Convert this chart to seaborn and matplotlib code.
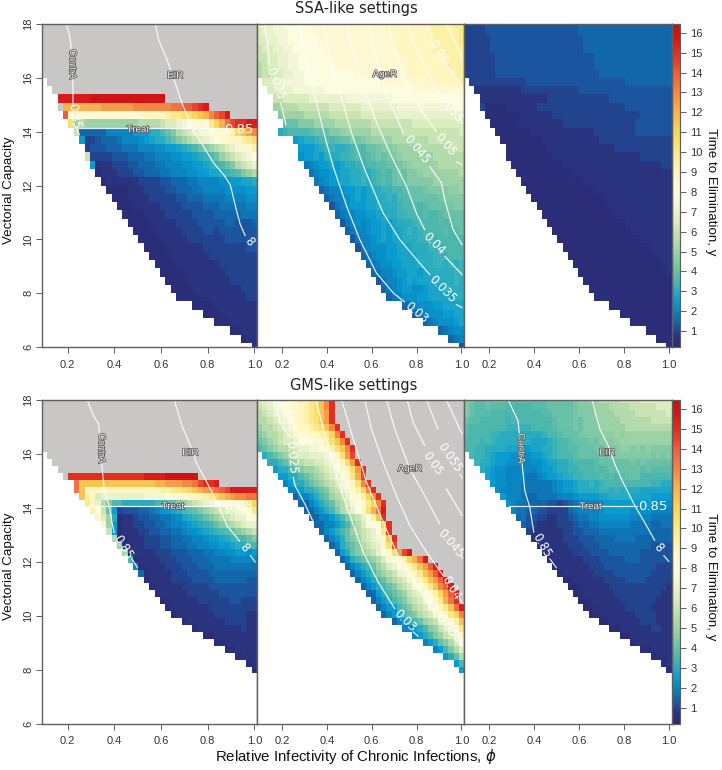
import numpy as np
import matplotlib
matplotlib.use("Agg")
import matplotlib.pyplot as plt
import matplotlib.patheffects as pe
from matplotlib.colors import LinearSegmentedColormap, ListedColormap
import seaborn as sns

sns.set_theme(style="white")
plt.rcParams['font.family'] = ['Liberation Sans', 'DejaVu Sans']

# Cell codes: . = white (no elimination possible), # = grey (beyond the scale)
# 0-9 a-x = time to elimination in half years, capitals = the quarter values between
HALF_CODES = "0123456789abcdefghijklmnopqrstuvwx"
QUARTER_CODES = {'A': 0.25, 'B': 0.75, 'C': 1.25, 'D': 1.75, 'E': 2.25,
                 'F': 2.75, 'G': 3.25, 'H': 3.75, 'I': 4.25, 'J': 4.75}

# Rows run from the top of each panel, and are right aligned on 40 columns
ssa_treat = [
    "#" * 40, "#" * 40, "#" * 40, "#" * 40, "#" * 40, "#" * 40, "#" * 40,
    "#" * 39, "#" * 38,
    "vvvvvvwwwwwwwwwwwwww" + "#" * 17,
    "#" + "oooooooppppppqqqqqqqrrsstuv" + "#" * 9,
    "shhhhhhhhhhhhhhiiiijkkllmnoqstv" + "#" * 5,
    "l" "abaaaaaaaaaabbbb" "cddef" "ghhg" "kmor" "tuuvv",
    "c" "3333344444" "55566" "789" "bcd" "eff" "ghh" "ij" "mn" "pq",
    "5" "22C33" "3D444" "E5F667" "89ab" "cdef" "ghhi" "ijkl",
    "2CCC33" "3DDD44" "4EE55F" "6G78" "9abc" "defh" "hj",
    "c" "2222C" "CC333" "DD444" "EE55F" "6G78" "abcd" "efg",
    "5" "1BB22" "2CC33" "3DD44" "4EE55" "F6G7" "89b" "cde",
    "1BBB2" "22CC3" "33DD4" "44EE5" "5FF6G" "7H9" "ab",
    "1BBBB" "BB222" "2CC33" "3DD44" "44EE5" "5FF6",
    "1111B" "BB222" "2CC33" "3DD44" "44EE" "EE55",
    "111BB" "BB222" "22CC3" "33DDD" "D444" "4EE",
    "111BB" "BBB22" "22CCC" "C333D" "DDDD" "44",
    "1111B" "BBB22" "222CC" "CC333" "33DDD",
    "1111B" "BBBB2" "222CC" "CCC33" "CCC3",
    "1111B" "BBBB2" "222CC" "2CCCC" "CCC",
    "1111B" "BBBB2" "22222" "2CCCC" "CC",
    "1111B" "BBBBB" "B2222" "2222C" "C",
    "1111B" "BBBBB" "B2222" "22222",
    "1111B" "BBBBB" "BB222" "2222",
    "1111B" "BBBBB" "BB222" "222",
    "1111B" "BBBBB" "BB222" "22",
    "1111B" "BBBBB" "BBB22" "2",
    "1111B" "BBBBB" "BBB22",
    "1111B" "BBBBB" "BB",
    "111BB" "BBBBB",
    "111BB" "BBB",
    "11BBB",
    "1BB",
    "B",
]

ssa_ager = [
    "eeeff" "ggggg" "hhhhh" "hhhhh" "hhhhh" "iiiii" "iiijj" "jjjkk",
    "deeff" "fgggg" "ghhhh" "hhhhh" "hhhhh" "iiiii" "iiijj" "jjjjk",
    "ddeef" "fgggg" "gghhh" "hhhhh" "hhhhh" "hiiii" "iiiij" "jjjjk",
    "cddee" "ffggg" "ggghh" "hhhhh" "hhhhh" "hhiii" "iiiij" "jjjjj",
    "ccdde" "effgg" "ggggh" "hhhhh" "hhhhh" "hhhii" "iiiii" "ijjjj",
    "bcdde" "effgg" "ggggg" "hhhhh" "hhhhh" "hhhhi" "iiiii" "iijjj",
    "bccdd" "eeffg" "ggggg" "ggggh" "hhhhh" "hhhhi" "iiiii" "iiijj",
    "ddee" "ffffg" "ggggg" "ggggg" "ggggh" "hhhhh" "hhhii" "iiiij",
    "dde" "eefff" "fffgg" "ggggg" "ggggg" "ggggg" "hhhhh" "hhhhh",
    "cc" "ddddd" "eeeee" "eefff" "fffff" "fgggg" "ggggg" "ggggg",
    "aa" "bbbcc" "ccccd" "ddddd" "eeeee" "eefff" "fffff" "fffgg",
    "9" "aaaab" "bbbbc" "ccccc" "ddddd" "ddeee" "eeeee" "eeeee",
    "88899" "9aaaa" "bbbbb" "bbccc" "ccccc" "ddddd" "ddddd",
    "6" "G7777" "H8889" "9Jaaa" "aabbb" "bbbcc" "ccccc" "ccccd",
    "5F6" "6G7H7" "H889I" "9Jaaa" "abbbb" "bbbcc" "ccccc",
    "55" "5F6GG" "66G7H" "788I9" "9Jaaa" "abbbb" "bbccc",
    "E5" "5F566" "6GG7H" "7H8I8" "I9Jaa" "aaaab" "bbbbb",
    "D" "4E55F" "5F66G" "G77HH" "88I9J" "aaaaa" "bbbbb",
    "D4EE5" "5FF66" "G6G7H" "78I89" "9Jaaa" "aaaab",
    "D4E5" "5FF66" "G6G7H" "78I89" "9999a" "aaaaa",
    "3D4" "4E55F" "5F66G" "G77H8" "88I99" "99JJa",
    "3D" "44E5F" "5FF66" "G677H" "88888" "I9999",
    "C" "D4E55" "5FF66" "66G77" "H7H88" "88I99",
    "3D44E" "E55FF" "66GG7" "77H77" "H8888",
    "CD4E" "4E55F" "5F666" "G7777" "H7H88",
    "3D4" "4E55F" "5FF6G" "6G777" "7H7H8",
    "CD" "44E5F" "5FF66" "6GG7G" "77777",
    "C" "D4EEE" "55FFF" "666GG" "G7777",
    "3D4EE" "55FFF" "F666G" "GG777",
    "3D4E" "E55FF" "F666G" "G6G6G",
    "3D4" "4E55F" "F5F66" "666GG",
    "CD" "44E5F" "5FFF6" "666G6",
    "3" "D4E55" "EE5FF" "F6666",
    "3D4EE" "E55FF" "FFF66",
    "3D4EE" "E55FF" "FF",
    "3D4EE" "E55FF",
    "3D4EE" "E5F",
    "3D4EE",
    "3D4",
    "C",
]

ssa_contra = [
    "2" * 4 + "C" * 18 + "3" * 18,
    "2" * 4 + "C" * 18 + "3" * 18,
    "2" * 5 + "C" * 18 + "3" * 17,
    "2" * 5 + "C" * 18 + "3" * 17,
    "2" * 6 + "C" * 19 + "3" * 15,
    "2" * 6 + "C" * 19 + "3" * 15,
    "2" * 6 + "C" * 20 + "3" * 14,
    "2" * 11 + "C" * 19 + "3" * 9,
    "B" * 9 + "2" * 11 + "C" * 18,
    "B" * 13 + "2" * 12 + "C" * 12,
    "2" + "1" * 4 + "B" * 6 + "2" * 17 + "C" * 9,
    "1" * 7 + "B" * 6 + "2" * 17 + "C" * 6,
    "1" * 5 + "B" * 9 + "2" * 14 + "C" * 7,
    "1" * 7 + "B" * 12 + "2" * 8 + "C" * 7,
    "1" * 8 + "B" * 11 + "2" * 14,
    "1" * 8 + "B" * 13 + "2" * 11,
    "1" * 9 + "B" * 17 + "2" * 6,
    "1" * 10 + "B" * 19 + "2" * 2,
    "1" * 11 + "B" * 19,
    "1" * 12 + "B" * 17,
    "1" * 13 + "B" * 15,
    "1" * 14 + "B" * 13,
    "1" * 14 + "B" * 12,
    "1" * 14 + "B" * 11,
    "1" * 15 + "B" * 9,
    "1" * 15 + "B" * 8,
    "1" * 16 + "B" * 6,
    "1" * 17 + "B" * 4,
    "1" * 17 + "B" * 3,
    "1" * 17 + "B" * 2,
    "1" * 17 + "B",
    "1" * 17,
    "1" * 16,
    "1" * 15,
    "1" * 12,
    "1" * 10,
    "1" * 8,
    "1" * 5,
    "1" * 3,
    "1",
]

gms_treat = [
    "#" * 40, "#" * 40, "#" * 40, "#" * 40, "#" * 40, "#" * 40, "#" * 40, "#" * 40,
    "#" * 39, "#" * 38, "#" * 37,
    "#" + "u" * 14 + "v" * 4 + "w" * 6 + "#" * 11,
    "r" + "n" * 14 + "ooppp" "qqr" "tuuv" + "#" * 7,
    "r" "n" + "i" * 14 + "jjkkl" "mno" "pqr" "st" "vvvvv",
    "n" "ji" "deeeeeeeefff" "fgghhh" "iijk" "mnop" "qqrr",
    "k" "i" "e" "b" "9" "77666666" "7788" "9ab" "cdef" "gghh" "hjkm",
    "jgc85" "2CCC33" "D4E" "5F6" "7H8" "9ab" "cde" "efg" "hk",
    "ida6" "1BB2CC" "33D" "D4E" "F6G" "789" "abc" "dee" "gh",
    "fa5" "1BB22C" "C33" "D44" "E5F" "6G7" "89a" "bcd" "ee",
    "c5" "1BBB22" "CC3" "3DD" "4EE" "5F6" "G7H" "89a" "bc",
    "b" "11BBB2" "22C" "C33" "DD4" "4E5" "5F6" "G77" "89",
    "a" "11BB2" "22C" "C33" "3DD" "44E" "E55" "F66" "G7",
    "a" "1BBB" "B22" "2CC" "C33" "3DD" "44E" "E55" "E5",
    "7" "1BB" "BB2" "22C" "CC3" "33D" "DDD" "444" "44",
    "4" "1B" "BBB" "222" "CCC" "333" "DDD" "DDD" "DD",
    "3" "1" "BBB" "B22" "2CC" "CC3" "333" "333" "33",
    "1" "BBB" "B22" "22C" "CCC" "333" "333" "CC",
    "1BBBB" "B2222" "2CCCC" "CCCCC",
    "1BBBB" "B2222" "22CCC" "CCCC",
    "1BBBB" "BB222" "222CC" "222",
    "1BBBB" "BBB22" "22222" "22",
    "1BBBB" "BBB22" "2222B" "B",
    "1BBBB" "BBB22" "22BB",
    "1BBBB" "BBBB2" "BB",
    "11BBB" "BBBBB",
    "11BBB" "BBB",
    "11BBB" "B",
    "1BBB",
    "1B",
    "1",
]

gms_ager = [
    "defgghhi" "jjklnqu" + "#" * 25,
    "cdefgghh" "ijklnqu" + "#" * 25,
    "bcdefggh" "ijklnpu" + "#" * 25,
    "bbcdefgh" "ijklnpu" + "#" * 25,
    "abbcdefg" "iijklnqu" + "#" * 24,
    "9abbcdef" "hhiijkmqu" + "#" * 23,
    "89abcdde" "ggghhjlnqu" + "#" * 22,
    "789abbcd" "eeffg" "hjlnqu" + "#" * 21,
    "6789abc" "ddeee" "fgilpt" + "#" * 21,
    "66789a" "bccdd" "efgilpu" + "#" * 20,
    "56678" "9aabc" "deghilpu" + "#" * 19,
    "5566" "789ab" "cdeghkot" + "#" * 19,
    "456" "6789a" "bcdfgilqu" + "#" * 18,
    "44" "56678" "9bcefhjmqu" + "#" * 17,
    "3" "44567" "8abcegh" "jmqu" + "#" * 16,
    "33456" "78abdfgh" "kmqu" + "#" * 15,
    "3345" "679bcegilorv" + "#" * 15,
    "334" "4567" "9bcegjnu" + "#" * 15,
    "33" "445679bd" "ggg" "mu" + "#" * 14,
    "345678abcdegku" + "#" * 14,
    "345689acdefinu" + "#" * 13,
    "346789bcdehlt" + "#" * 13,
    "35689abcegh" "lptv" + "#" * 10,
    "346789abd" "fghjmorv" + "#" * 7,
    "345678abd" "eghiknpsv" + "#" * 5,
    "345679abc" "efhiknpsv" + "#" * 4,
    "345678abc" "dfhiknpsv" + "#" * 3,
    "3456789bc" "dfgiknqsv" + "#" * 2,
    "3356789ac" "deghjmpsv" + "#",
    "3456789b" "cdfgikoru" + "#",
    "3455789b" "cdfgiknrv",
    "3456789bcdfgikmq",
    "345678abcefhjn",
    "445679acdfhk",
    "45679acdfi",
    "45689bdg",
    "4579bd",
    "568b",
    "57",
    "5",
]

gms_contra = [
    "99HH" "8888" "HHHH" "HHHH" "8888" "8I99" "aabb" "bbcc" "ccdd" "dddd",
    "98HH" "8HHH" "7777" "7HHH" "8888" "8I99" "9aaa" "bbbb" "cccc" "cddd",
    "98HH" "H777" "7777" "777H" "H888" "8I99" "9aaa" "abbb" "bccc" "cccd",
    "8HH7" "7777" "G777" "7777" "7H88" "8I89" "99aa" "aabb" "bbbb" "cccc",
    "H777" "7777" "GGGG" "G777" "7H88" "8I89" "99aa" "aaab" "bbbb" "bbbb",
    "H777" "7GG6" "6666" "666G" "77H8" "88I9" "999J" "JaJa" "aaaa" "aaaa",
    "777G" "7G66" "6666" "6FFF" "6G77" "H888" "I899" "9Jaa" "aaaa" "aaaa",
    "77GG" "6666" "FFF5" "5FF6" "6G77" "HH88" "8I89" "99JJ" "9J9J" "9999",
    "7GG" "6F55" "5EEE" "E55F" "6G77" "7H88" "88I8" "I999" "9999" "I9I9",
    "G6" "6F55" "EEE4" "4EE5" "FF66" "G777" "7H88" "8888" "I8I8" "8888",
    "6" "F5EE" "4444" "44E5" "5F66" "GG77" "7H7H" "8888" "88H8" "HHHH",
    "F5EE" "4444" "DD4E" "55F6" "6GG7" "77H7" "H7H8" "8877" "7777",
    "5EE" "444D" "DDDD" "D4E5" "5F66" "G6G7" "7777" "7777" "GG66",
    "E4" "444D" "DDDD" "D4E5" "5F66" "66GG" "6G66" "66FF" "FFFF",
    "5" "444D" "33DD" "DD44" "4E55" "55FF" "6666" "FFFF" "5555",
    "E4DD" "3333" "CC2C" "3D44" "44E5" "5555" "5555" "EEEE",
    "4DD" "33CC" "2222" "3D44" "44E5" "5555" "EEEE" "4444",
    "3D" "CC22" "BB22" "C3DD" "44EE" "EEEE" "4444" "DDDD",
    "3" "C2BB" "BB22" "2C33" "DD44" "4444" "DDDD" "33DD",
    "2BBB" "BBB2" "2CC3" "33DD" "DDDD" "DDDD" "3333",
    "BBB" "BBB2" "22CC" "C333" "3DDD" "D333" "3333",
    "BB" "BBBB" "222C" "CC33" "3333" "3333" "CCCC",
    "B" "BBBB" "B222" "CCCC" "3333" "33CC" "CCCC",
    "1BBB" "BBB2" "22CC" "CCC3" "33CC" "CCCC",
    "1BB" "BBBB" "222C" "CCCC" "CCCC" "C222",
    "1B" "BBBB" "B222" "2CCC" "CCCC" "2222",
    "1" "1BBB" "BBB2" "222C" "CCC2" "2222",
    "11BB" "BBBB" "2222" "2222" "222B",
    "11B" "BBBB" "B222" "2222" "22BB",
    "11" "BBBB" "BB22" "2222" "2BBB",
    "1" "1BBB" "BBB2" "2222" "BBBB",
    "11BB" "BBBB" "B222" "2BBB",
    "11" "BBBB" "BB22" "2BBB",
    "11BB" "BBBB" "22BB",
    "11" "BBBB" "BBBB",
    "1BBB" "BBBB",
    "11" "BBBB",
    "1BBB",
    "1B",
    "1",
]

# Contour lines as (phi, vectorial capacity) pieces, broken where a label sits
ssa_treat_lines = [
    [(.194, 18), (.207, 17.65), (.214, 17.28), (.218, 16.6), (.223, 15.92), (.223, 14.93)],
    [(.237, 14.19), (.251, 13.88)],
    [(.576, 18), (.590, 17.41), (.626, 16.67), (.657, 15.92), (.690, 15.06), (.720, 14.44),
     (.744, 13.95), (.783, 13.45), (.826, 12.83), (.869, 12.40), (.897, 12.03), (.909, 11.60),
     (.923, 11.10), (.940, 10.55), (.961, 10.14)],
    [(.250, 14.14), (.883, 14.14)],
]
ssa_ager_lines = [
    [(.120, 18), (.135, 17.28), (.144, 16.48)],
    [(.194, 15.06), (.218, 14.25)],
    [(.277, 18), (.295, 17.04), (.339, 15.55), (.391, 13.82), (.428, 12.71), (.488, 11.23),
     (.547, 9.99), (.621, 8.75), (.696, 8.01), (.747, 7.67)],
    [(.387, 18), (.406, 17.04), (.451, 15.68), (.510, 13.95), (.569, 12.59), (.651, 10.98),
     (.725, 9.99), (.814, 9.12), (.859, 8.69)],
    [(.977, 7.58), (1.003, 7.46)],
    [(.488, 18), (.510, 17.16), (.562, 15.68), (.629, 14.19), (.688, 13.08), (.755, 11.97),
     (.799, 10.98), (.836, 10.36)],
    [(.926, 9.37), (1.003, 8.69)],
    [(.584, 18), (.614, 16.91), (.666, 15.43), (.740, 13.95)],
    [(.859, 12.71), (.911, 12.09), (.926, 11.47), (.963, 10.36), (1.003, 9.80)],
    [(.673, 18), (.703, 17.04), (.755, 15.8), (.829, 14.69), (.888, 14.01)],
    [(.977, 12.89), (1.003, 12.77)],
    [(.758, 18), (.785, 17.28), (.829, 16.54), (.881, 15.68), (.900, 15.43)],
    [(.990, 14.5), (1.003, 14.3)],
    [(.844, 18), (.871, 17.47)],
    [(.933, 16.48), (1.003, 15.68)],
    [(.933, 18), (1.003, 16.73)],
]
gms_treat_lines = [
    [(.284, 18), (.311, 17.42), (.333, 17.11), (.337, 16.8), (.347, 15.57), (.357, 14.71),
     (.380, 14.03), (.390, 13.48), (.400, 13.08)],
    [(.476, 12.12), (.500, 11.78)],
    [(.657, 18), (.690, 17.05), (.726, 16.31), (.754, 15.63), (.797, 14.95), (.840, 14.21),
     (.883, 13.35), (.937, 12.77)],
    [(.983, 12.24), (1.004, 12.0)],
    [(.290, 14.09), (.876, 14.09)],
]
gms_ager_lines = [
    [(.161, 18), (.191, 17.17), (.236, 16.62)],
    [(.250, 15.14), (.258, 14.83), (.302, 14.15), (.336, 13.54)],
    [(.351, 18), (.377, 17.17), (.421, 15.94), (.451, 14.95), (.503, 13.72), (.562, 12.37),
     (.629, 11.26), (.703, 10.27)],
    [(.785, 9.41), (.807, 9.25)],
    [(.466, 18), (.518, 16.55), (.577, 14.95), (.651, 13.48), (.710, 12.37), (.799, 11.14),
     (.881, 10.09)],
    [(.985, 9.04), (1.007, 8.86)],
    [(.569, 18), (.599, 16.92), (.651, 15.69), (.710, 14.46), (.770, 13.35), (.844, 12.37),
     (.918, 11.5)],
    [(.992, 10.64), (1.007, 10.45)],
    [(.666, 18), (.703, 16.92), (.770, 15.45), (.844, 14.34), (.903, 13.41)],
    [(.995, 12.25), (1.007, 12.12)],
    [(.758, 18), (.785, 17.17), (.836, 16.31)],
    [(.933, 14.71), (1.003, 13.72)],
    [(.844, 18), (.896, 16.92)],
    [(.992, 15.26), (1.005, 15.1)],
    [(.933, 18), (1.003, 16.74)],
]
gms_contra_lines = [
    [(.285, 18), (.329, 17.23), (.334, 16.8), (.347, 15.63), (.359, 14.64), (.381, 14.03),
     (.399, 13.1)],
    [(.470, 12.12), (.500, 11.78)],
    [(.658, 18), (.693, 16.92), (.730, 16.31), (.759, 15.63), (.796, 14.95), (.848, 14.09),
     (.900, 13.35), (.937, 12.8)],
    [(.977, 12.24), (1.0, 12.02)],
    [(.288, 14.09), (.856, 14.09)],
]

# Contour labels: text, phi, vectorial capacity, rotation
ssa_treat_labels = [("0.85", .229, 14.56, -80), ("8", .98, 9.9, -50), ("0.85", .933, 14.09, 0)]
ssa_treat_names = [("ContrA", .223, 16.5, -90), ("EIR", .661, 16.1, 0), ("Treat", .501, 14.09, 0)]
ssa_ager_labels = [("0.025", .169, 15.8, -70), ("0.03", .799, 7.27, -40), ("0.035", .915, 8.16, -45),
                   ("0.04", .877, 9.83, -45), ("0.045", .799, 13.33, -50), ("0.05", .928, 13.51, -50),
                   ("0.055", .948, 14.87, -50), ("0.06", .896, 16.97, -58)]
ssa_ager_names = [("AgeR", .658, 16.15, 0)]
gms_treat_labels = [("0.85", .437, 12.55, -58), ("8", .957, 12.55, -50), ("0.85", .933, 14.07, 0)]
gms_treat_names = [("ContrA", .347, 16.21, -90), ("EIR", .726, 16.06, 0), ("Treat", .651, 14.07, 0)]
gms_ager_labels = [("0.025", .239, 15.88, -85), ("0.03", .747, 9.81, -45), ("0.035", .943, 9.54, -50),
                   ("0.04", .955, 11.04, -58), ("0.045", .952, 12.68, -50), ("0.05", .871, 15.63, -55),
                   ("0.055", .948, 15.88, -55)]
gms_ager_names = [("AgeR", .770, 15.47, 0)]
gms_contra_labels = [("0.85", .433, 12.61, -60), ("8", .955, 12.55, -50), ("0.85", .93, 14.07, 0)]
gms_contra_names = [("ContrA", .344, 16.21, -90), ("EIR", .725, 16.06, 0), ("Treat", .651, 14.07, 0)]

phi_ticks = [0.2, 0.4, 0.6, 0.8, 1.0]
vc_ticks = [6, 8, 10, 12, 14, 16, 18]
bar_ticks = list(range(1, 17))

# Colour scale of the figure
scale_values = [0.2, 0.5, 0.75, 1.0, 1.25, 1.5, 2, 2.5, 3, 3.5, 4, 4.5, 5, 5.5, 6, 6.5, 7, 7.5, 8,
                9, 10, 10.5, 11, 11.5, 12, 12.5, 13, 13.5, 14, 14.5, 15, 15.5, 16, 16.44]
scale_colours = ["#2b2a72", "#2c2e7a", "#29347f", "#214590", "#1b57a1", "#1169ac", "#0a86c2",
                 "#0a9cd0", "#2aacc0", "#4cb7ae", "#6ac1a6", "#85caa5", "#9dd2a6", "#b5dbab",
                 "#c9e3b2", "#dbecbe", "#e8f2cc", "#f4f7d6", "#fdfce2", "#fff6c2", "#fbe98c",
                 "#f8e173", "#f7d860", "#f8c654", "#fab24f", "#f89c4a", "#f68743", "#f37242",
                 "#ee5f3c", "#e9452f", "#e22f22", "#d91d1a", "#cf1515", "#c41111"]
vmin, vmax = scale_values[0], scale_values[-1]
cmap = LinearSegmentedColormap.from_list(
    "elimination", [((v - vmin) / (vmax - vmin), c) for v, c in zip(scale_values, scale_colours)])
grey_map = ListedColormap(["#c9c7c5"])

N_CELLS = 40
PHI_STEP = 0.9 / 39
W, H = 722, 770
EDGE = "#606060"
halo = [pe.withStroke(linewidth=1.1, foreground="#555555")]


def read_rows(rows):
    values = np.full((N_CELLS, N_CELLS), np.nan)
    grey = np.full((N_CELLS, N_CELLS), np.nan)
    for i, row in enumerate(rows):
        for j, ch in enumerate(row.rjust(N_CELLS, ".")[-N_CELLS:]):
            if ch == "#":
                grey[i, j] = 1
            elif ch in QUARTER_CODES:
                values[i, j] = QUARTER_CODES[ch]
            elif ch != ".":
                values[i, j] = HALF_CODES.index(ch) / 2
    return values, grey


def add_axes(x0, x1, y0, y1):
    # pixel box of the reference, top left origin
    return fig.add_axes([x0 / W, 1 - y1 / H, (x1 - x0) / W, (y1 - y0) / H])


def col_pos(phi):
    return (np.asarray(phi) - 0.1) / PHI_STEP + 0.5


def draw_panel(ax, rows, vc_low, lines, labels, names, show_y, cax=None):
    vc_step = (18 - vc_low) / 39

    def row_pos(vc):
        return (18 - np.asarray(vc)) / vc_step + 0.5

    values, grey = read_rows(rows)
    sns.heatmap(grey, ax=ax, cmap=grey_map, vmin=0, vmax=2, cbar=False,
                xticklabels=False, yticklabels=False)
    sns.heatmap(values, ax=ax, cmap=cmap, vmin=vmin, vmax=vmax, cbar=cax is not None, cbar_ax=cax,
                xticklabels=False, yticklabels=False)
    for piece in lines:
        phi, vc = zip(*piece)
        sns.lineplot(x=col_pos(phi), y=row_pos(vc), ax=ax, color="white", linewidth=0.85, alpha=0.9,
                     sort=False, estimator=None, legend=False)
    for text, phi, vc, rot in labels:
        ax.text(col_pos(phi), row_pos(vc), text, color="white", fontsize=9.5 if rot == 0 else 8.5,
                family="DejaVu Sans", rotation=rot, rotation_mode="anchor", ha="center", va="center")
    for text, phi, vc, rot in names:
        ax.text(col_pos(phi), row_pos(vc), text, color="#f2f2f2", fontsize=7, rotation=rot,
                rotation_mode="anchor", ha="center", va="center", path_effects=halo)
    ax.set_facecolor("white")
    ax.set_xlim(0, N_CELLS)
    ax.set_ylim((18 - 6) / vc_step + 0.5, 0.5)
    ax.set_xticks(col_pos(phi_ticks), [f"{p:.1f}" for p in phi_ticks])
    ax.tick_params(axis="x", bottom=True, length=4, width=0.7, color=EDGE, labelsize=8,
                   labelcolor="#333333", pad=5)
    if show_y:
        ax.set_yticks(row_pos(vc_ticks), [str(v) for v in vc_ticks], rotation=90, va="center")
        ax.tick_params(axis="y", left=True, length=4, width=0.7, color=EDGE, labelsize=8,
                       labelcolor="#333333", pad=2)
    else:
        ax.set_yticks([])
    ax.set_xlabel("")
    ax.set_ylabel("")
    for side in ax.spines.values():
        side.set_visible(True)
        side.set_color(EDGE)
        side.set_linewidth(1.0)


fig = plt.figure(figsize=(W / 100, H / 100), dpi=100, facecolor="white")
panel_x = [(41.5, 257), (257, 464), (464, 671.5)]

tops = [
    (24, 347, 6, "SSA-like settings", 356.5, 8, 190, 192,
     [(ssa_treat, ssa_treat_lines, ssa_treat_labels, ssa_treat_names),
      (ssa_ager, ssa_ager_lines, ssa_ager_labels, ssa_ager_names),
      (ssa_contra, [], [], [])]),
    (400, 724, 8, "GMS-like settings", 354, 386, 566, 577,
     [(gms_treat, gms_treat_lines, gms_treat_labels, gms_treat_names),
      (gms_ager, gms_ager_lines, gms_ager_labels, gms_ager_names),
      (gms_contra, gms_contra_lines, gms_contra_labels, gms_contra_names)]),
]

for y0, y1, vc_low, title, title_x, title_y, left_y, right_y, panels in tops:
    cax = add_axes(671.5, 680, y0, y1)
    for k, (rows, lines, labels, names) in enumerate(panels):
        ax = add_axes(panel_x[k][0], panel_x[k][1], y0, y1)
        draw_panel(ax, rows, vc_low, lines, labels, names, k == 0, cax if k == 2 else None)
    cax.set_yticks(bar_ticks, [str(t) for t in bar_ticks])
    cax.tick_params(axis="y", right=True, left=False, length=4.5, width=0.7, color=EDGE,
                    labelsize=8, labelcolor="#333333", pad=3)
    for side in cax.spines.values():
        side.set_visible(True)
        side.set_color(EDGE)
        side.set_linewidth(0.8)
    fig.text(title_x / W, 1 - title_y / H, title, family="DejaVu Sans", fontsize=10.5, color="#222222",
             ha="center", va="center")
    fig.text(9.5 / W, 1 - left_y / H, "Vectorial Capacity", fontsize=9.6,
             color="#111111", rotation=90, ha="center", va="center")
    fig.text(711 / W, 1 - right_y / H, "Time to Elimination, y", fontsize=9.6,
             color="#111111", rotation=-90, ha="center", va="center")

fig.text(355.5 / W, 1 - 757 / H, r"Relative Infectivity of Chronic Infections, $\phi$", fontsize=10.8,
         color="#111111", ha="center", va="center")

fig.savefig("out.png", dpi=100)
plt.close(fig)
